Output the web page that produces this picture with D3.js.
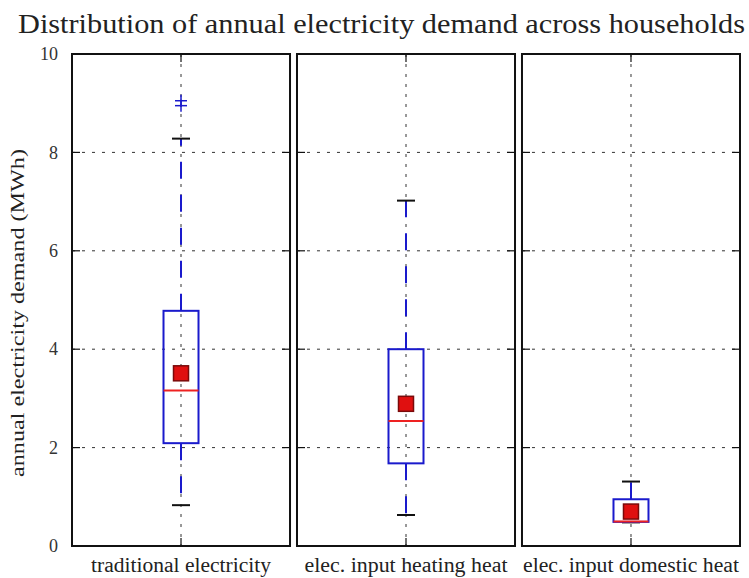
<!DOCTYPE html>
<html><head><meta charset="utf-8">
<script src="https://cdn.jsdelivr.net/npm/d3@7"></script>
<style>body{margin:0;background:#fff}svg{display:block}</style>
</head><body>
<script>
const categories = ["traditional electricity", "elec. input heating heat", "elec. input domestic heat"];
const q1 = [2.09, 1.68, 0.49];
const medians = [3.16, 2.54, 0.50];
const q3 = [4.78, 4.00, 0.95];
const whiskerLow = [0.83, 0.63, 0.48];
const whiskerHigh = [8.28, 7.02, 1.31];
const means = [3.51, 2.89, 0.70];
const outliers = [[8.95, 9.05], [], []];
const yTicks = [0, 2, 4, 6, 8, 10];

const W = 749, H = 578;
const svg = d3.select("body").append("svg").attr("width", W).attr("height", H);
const font = "'Liberation Serif','DejaVu Serif',serif";
const txt = "#222";

const x = d3.scaleBand().domain(categories).range([72, 740]).paddingInner(0.031);
const y = d3.scaleLinear().domain([0, 10]).range([546, 54]);
const boxW = 35, capW = 18, tickLen = 8;
const labelLen = [180, 203, 216];

svg.append("text").attr("x", 18).attr("y", 33)
  .attr("font-family", font).attr("font-size", 27).attr("fill", txt)
  .attr("textLength", 727).attr("lengthAdjust", "spacingAndGlyphs")
  .text("Distribution of annual electricity demand across households");

svg.append("text").attr("transform", `translate(24,313) rotate(-90)`)
  .attr("text-anchor", "middle").attr("font-family", font).attr("font-size", 19).attr("fill", txt)
  .attr("textLength", 328).attr("lengthAdjust", "spacingAndGlyphs")
  .text("annual electricity demand (MWh)");

// y tick labels
svg.append("g").attr("transform", `translate(${x.range()[0]},0)`)
  .call(d3.axisLeft(y).tickValues(yTicks).tickSize(0).tickPadding(14).tickFormat(d3.format("d")))
  .call(g => g.select(".domain").remove())
  .call(g => g.selectAll("text").attr("font-family", font).attr("font-size", 18).attr("fill", "#333"));

categories.forEach((c, i) => {
  const x0 = x(c), bw = x.bandwidth(), cx = x0 + bw / 2;
  const g = svg.append("g");
  // grid
  g.selectAll(".hg").data(yTicks.filter(t => t > 0 && t < 10)).join("line")
    .attr("x1", x0).attr("x2", x0 + bw).attr("y1", d => y(d)).attr("y2", d => y(d))
    .attr("stroke", "#333").attr("stroke-width", 1).attr("stroke-dasharray", "3,7");
  g.append("line").attr("x1", cx).attr("x2", cx).attr("y1", y(10)).attr("y2", y(0))
    .attr("stroke", "#333").attr("stroke-width", 1).attr("stroke-dasharray", "3,7");
  // ticks
  yTicks.filter(t => t > 0 && t < 10).forEach(t => {
    g.append("line").attr("x1", x0).attr("x2", x0 + tickLen).attr("y1", y(t)).attr("y2", y(t)).attr("stroke", "#111").attr("stroke-width", 1.2);
    g.append("line").attr("x1", x0 + bw - tickLen).attr("x2", x0 + bw).attr("y1", y(t)).attr("y2", y(t)).attr("stroke", "#111").attr("stroke-width", 1.2);
  });
  g.append("line").attr("x1", cx).attr("x2", cx).attr("y1", y(0)).attr("y2", y(0) - tickLen).attr("stroke", "#111").attr("stroke-width", 1.2);
  g.append("line").attr("x1", cx).attr("x2", cx).attr("y1", y(10)).attr("y2", y(10) + tickLen).attr("stroke", "#111").attr("stroke-width", 1.2);

  // whiskers
  g.append("line").attr("x1", cx).attr("x2", cx).attr("y1", y(q3[i])).attr("y2", y(whiskerHigh[i]))
    .attr("stroke", "#1a1acc").attr("stroke-width", 2).attr("stroke-dasharray", "17,16");
  g.append("line").attr("x1", cx).attr("x2", cx).attr("y1", y(q1[i])).attr("y2", y(whiskerLow[i]))
    .attr("stroke", "#1a1acc").attr("stroke-width", 2).attr("stroke-dasharray", "17,16");
  // caps
  [whiskerLow[i], whiskerHigh[i]].forEach(v => {
    g.append("line").attr("x1", cx - capW / 2).attr("x2", cx + capW / 2).attr("y1", y(v)).attr("y2", y(v))
      .attr("stroke", "#111").attr("stroke-width", 2);
  });
  // box
  g.append("rect").attr("x", cx - boxW / 2).attr("y", y(q3[i])).attr("width", boxW).attr("height", y(q1[i]) - y(q3[i]))
    .attr("fill", "none").attr("stroke", "#1a1acc").attr("stroke-width", 2);
  // median
  g.append("line").attr("x1", cx - boxW / 2).attr("x2", cx + boxW / 2).attr("y1", y(medians[i])).attr("y2", y(medians[i]))
    .attr("stroke", "#ee2222").attr("stroke-width", 2);
  // outliers
  outliers[i].forEach(v => {
    g.append("line").attr("x1", cx - 6).attr("x2", cx + 6).attr("y1", y(v)).attr("y2", y(v)).attr("stroke", "#1a1acc").attr("stroke-width", 1.5);
    g.append("line").attr("x1", cx).attr("x2", cx).attr("y1", y(v) - 6).attr("y2", y(v) + 6).attr("stroke", "#1a1acc").attr("stroke-width", 1.5);
  });
  // mean
  g.append("rect").attr("x", cx - 7.5).attr("y", y(means[i]) - 7.5).attr("width", 15).attr("height", 15)
    .attr("fill", "#e01010").attr("stroke", "#7a0a0a").attr("stroke-width", 1.5);
  // frame
  g.append("rect").attr("x", x0).attr("y", y(10)).attr("width", bw).attr("height", y(0) - y(10))
    .attr("fill", "none").attr("stroke", "#111").attr("stroke-width", 2);
  // category label
  g.append("text").attr("x", cx).attr("y", 572).attr("text-anchor", "middle")
    .attr("font-family", font).attr("font-size", 20).attr("fill", txt)
    .attr("textLength", labelLen[i]).attr("lengthAdjust", "spacingAndGlyphs").text(c);
});
</script>
</body></html>
